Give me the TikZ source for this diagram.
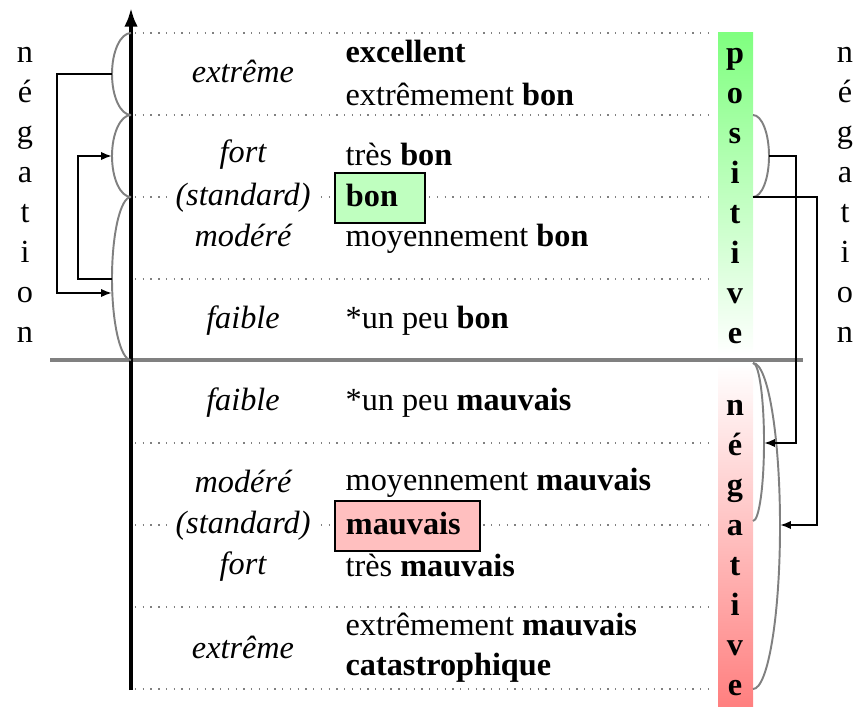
\documentclass[tikz,border=0pt]{standalone}
\usepackage{fontspec}
\setmainfont{Liberation Serif}
\usetikzlibrary{arrows.meta}
\tikzset{
  rule/.style={gray, dotted},
  brace/.style={gray, semithick},
  conn/.style={semithick, -{Latex[length=3.4pt, width=2.6pt]}},
  lbl/.style={font=\itshape, anchor=base},
  ex/.style={anchor=base west, inner xsep=0pt},
  std/.style={font=\itshape, anchor=base, fill=white, inner xsep=1pt},
  stack/.style={align=center, font=\fontsize{10}{12.4}\selectfont},
  bar/.style={align=center, font=\fontsize{10}{12.4}\selectfont\bfseries},
  wordbox/.style={draw, semithick, anchor=west, align=left, inner xsep=3.4pt,
    text height=7pt, text depth=2pt, minimum height=13pt}
}
\begin{document}
\begin{tikzpicture}[x=0.31pt, y=-0.31pt]
  \useasboundingbox (0,0) rectangle (858,706);
  \shade[top color=green!50, bottom color=white] (718,33) rectangle (753,355);
  \shade[top color=white, bottom color=red!50] (718,364) rectangle (753,706);
  \foreach \y in {33,115,197,279,443,525,607,689}
    \draw[rule] (135,\y) -- (715,\y);
  \draw[gray, line width=1.2pt] (50,360) -- (803,360);
  \draw[line width=1.1pt, -{Latex[length=5.8pt, width=4.2pt]}] (131,690) -- (131,8);

  \draw
    (243,83) node[lbl] (pext) {extrême}
    (243,163) node[lbl] (pfort) {fort}
    (243,205) node[std] (pstd) {(standard)}
    (243,246) node[lbl] (pmod) {modéré}
    (243,328) node[lbl] (pfai) {faible}
    (243,410) node[lbl] (nfai) {faible}
    (243,492) node[lbl] (nmod) {modéré}
    (243,533) node[std] (nstd) {(standard)}
    (243,574) node[lbl] (nfort) {fort}
    (243,658) node[lbl] (next) {extrême};
  \draw
    (345,63) node[ex] (excellent) {\textbf{excellent}}
    (345,105) node[ex] (extbon) {extrêmement \textbf{bon}}
    (345,165) node[ex] (tresbon) {très \textbf{bon}}
    (345,246) node[ex] (moybon) {moyennement \textbf{bon}}
    (345,328) node[ex] (peubon) {*un peu \textbf{bon}}
    (345,410) node[ex] (peumauv) {*un peu \textbf{mauvais}}
    (345,490) node[ex] (moymauv) {moyennement \textbf{mauvais}}
    (345,576) node[ex] (tresmauv) {très \textbf{mauvais}}
    (345,635) node[ex] (extmauv) {extrêmement \textbf{mauvais}}
    (345,675) node[ex] (catastrophique) {\textbf{catastrophique}};
  \node (bon) [wordbox, fill=green!25, text width=21.1pt] at (334,198) {\textbf{bon}};
  \node (mauvais) [wordbox, fill=red!25, text width=38.1pt] at (334,526) {\textbf{mauvais}};

  \node (negl) [stack] at (25,195) {n\\é\\g\\a\\t\\i\\o\\n};
  \node (negr) [stack] at (845,195) {n\\é\\g\\a\\t\\i\\o\\n};
  \node (positive) [bar] at (735,196) {p\\o\\s\\i\\t\\i\\v\\e};
  \node (negative) [bar] at (735,548) {n\\é\\g\\a\\t\\i\\v\\e};

  \draw[brace] (131,33) arc[start angle=270, end angle=90, x radius=19, y radius=41];
  \draw[brace] (131,115) arc[start angle=270, end angle=90, x radius=19, y radius=41];
  \draw[brace] (131,197) arc[start angle=270, end angle=90, x radius=19, y radius=81.5];
  \draw[brace] (753,115) arc[start angle=-90, end angle=90, x radius=16, y radius=41];
  \draw[brace] (753,363) arc[start angle=-90, end angle=90, x radius=11, y radius=79];
  \draw[brace] (753,363) arc[start angle=-90, end angle=90, x radius=27, y radius=163];

  \coordinate (lext) at (112,74);
  \coordinate (lfort) at (112,156);
  \coordinate (lmod) at (112,279);
  \coordinate (lfai) at (112,293);
  \coordinate (rfort) at (769,156);
  \coordinate (rstd) at (753,197);
  \coordinate (rfai) at (764,443);
  \coordinate (rall) at (780,525);
  \begin{scope}[conn]
    \draw (lext) -- ++(-55,0) |- (lfai);
    \draw (lmod) -- ++(-34,0) |- (lfort);
    \draw (rfort) -- ++(27,0) |- (rfai);
    \draw (rstd) -- ++(64,0) |- (rall);
  \end{scope}
\end{tikzpicture}
\end{document}
